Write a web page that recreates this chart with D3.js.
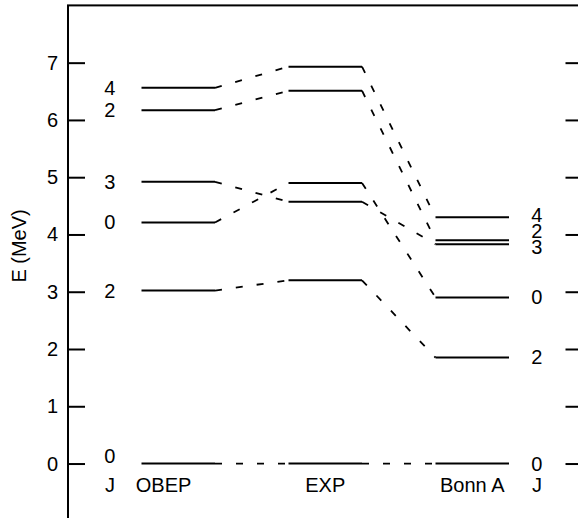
<!DOCTYPE html>
<html>
<head>
<meta charset="utf-8">
<script src="https://cdn.jsdelivr.net/npm/d3@7"></script>
<style>
  body { margin: 0; background: #fff; }
  svg { display: block; overflow: hidden; }
  text { font-family: "Liberation Sans", Arial, Helvetica, sans-serif; fill: #000; }
</style>
</head>
<body>
<div id="chart"></div>
<script>
// level schemes, one entry per state, same order in every column
const models = ["OBEP", "EXP", "Bonn A"];
const spins = [0, 2, 0, 3, 2, 4];
const obepLevels = [0, 3.02, 4.21, 4.92, 6.17, 6.56];
const expLevels = [0, 3.20, 4.90, 4.57, 6.51, 6.93];
const bonnLevels = [0, 1.85, 2.90, 3.83, 3.90, 4.30];
const energyTicks = [0, 1, 2, 3, 4, 5, 6, 7];

const width = 578;
const height = 518;
const fontSize = 20;
const columns = [obepLevels, expLevels, bonnLevels];

// x in "slot" units: 0 = left axis, 7 = right axis, levels sit in [1,2], [3,4], [5,6]
const x = d3.scaleLinear().domain([0, 7]).range([68, 582.5]);
const y = d3.scaleLinear().domain([-1, 8]).range([520.8, 5.4]);

const svg = d3.select("#chart")
  .append("svg")
    .attr("width", width)
    .attr("height", height);

// frame
svg.append("rect")
    .attr("x", x(0))
    .attr("y", y(8))
    .attr("width", x(7) - x(0))
    .attr("height", y(-1) - y(8))
    .attr("fill", "none")
    .attr("stroke", "#000")
    .attr("stroke-width", 2);

// left axis ticks + labels
svg.append("g")
    .attr("transform", `translate(${x(0)},0)`)
    .call(d3.axisRight(y).tickValues(energyTicks).tickSize(17).tickFormat(""))
    .call(g => g.select(".domain").remove())
    .call(g => g.selectAll("line").attr("stroke-width", 2));

svg.append("g")
  .selectAll("text")
  .data(energyTicks)
  .join("text")
    .attr("x", x(0) - 10)
    .attr("y", d => y(d))
    .attr("text-anchor", "end")
    .attr("dominant-baseline", "central")
    .attr("font-size", fontSize)
    .text(d => d);

// right axis ticks (inward)
svg.append("g")
    .attr("transform", `translate(${x(7)},0)`)
    .call(d3.axisLeft(y).tickValues(energyTicks).tickSize(17).tickFormat(""))
    .call(g => g.select(".domain").remove())
    .call(g => g.selectAll("line").attr("stroke-width", 2));

svg.append("text")
    .attr("transform", `translate(19,${y(3.8)}) rotate(-90)`)
    .attr("text-anchor", "middle")
    .attr("dominant-baseline", "central")
    .attr("font-size", fontSize)
    .text("E (MeV)");

// dashed connectors between neighbouring columns
const links = [];
for (let c = 0; c < columns.length - 1; c++) {
  columns[c].forEach((e, i) => {
    links.push({ x1: 2 * c + 2, e1: e, x2: 2 * c + 3, e2: columns[c + 1][i] });
  });
}

svg.append("g")
  .selectAll("line")
  .data(links)
  .join("line")
    .attr("x1", d => x(d.x1))
    .attr("y1", d => y(d.e1))
    .attr("x2", d => x(d.x2))
    .attr("y2", d => y(d.e2))
    .attr("stroke", "#000")
    .attr("stroke-width", 1.8)
    .attr("stroke-dasharray", "7,14");

// level lines
columns.forEach((levels, c) => {
  svg.append("g")
    .selectAll("line")
    .data(levels)
    .join("line")
      .attr("x1", x(2 * c + 1))
      .attr("x2", x(2 * c + 2))
      .attr("y1", d => y(d))
      .attr("y2", d => y(d))
      .attr("stroke", "#000")
      .attr("stroke-width", 2);
});

// spin labels, nudged where they would collide (the stacked 4/2/3 overlap in the original too)
const leftNudge = [-8, 0, 0, 0, 0, 0];
const rightNudge = [0, -1, 0, 3, -9, -2];

svg.append("g")
  .selectAll("text")
  .data(obepLevels)
  .join("text")
    .attr("x", x(0.57))
    .attr("y", (d, i) => y(d) + leftNudge[i])
    .attr("text-anchor", "middle")
    .attr("dominant-baseline", "central")
    .attr("font-size", fontSize)
    .text((d, i) => spins[i]);

svg.append("g")
  .selectAll("text")
  .data(bonnLevels)
  .join("text")
    .attr("x", x(6.38))
    .attr("y", (d, i) => y(d) + rightNudge[i])
    .attr("text-anchor", "middle")
    .attr("dominant-baseline", "central")
    .attr("font-size", fontSize)
    .text((d, i) => spins[i]);

// column names and J headers under the ground state
const nameSlots = [1.3, 3.5, 5.5];
svg.append("g")
  .selectAll("text")
  .data(models)
  .join("text")
    .attr("x", (d, i) => x(nameSlots[i]))
    .attr("y", y(-0.37))
    .attr("text-anchor", "middle")
    .attr("dominant-baseline", "central")
    .attr("font-size", fontSize)
    .text(d => d);

svg.append("g")
  .selectAll("text")
  .data([0.57, 6.38])
  .join("text")
    .attr("x", d => x(d))
    .attr("y", y(-0.37))
    .attr("text-anchor", "middle")
    .attr("dominant-baseline", "central")
    .attr("font-size", fontSize)
    .text("J");
</script>
</body>
</html>
